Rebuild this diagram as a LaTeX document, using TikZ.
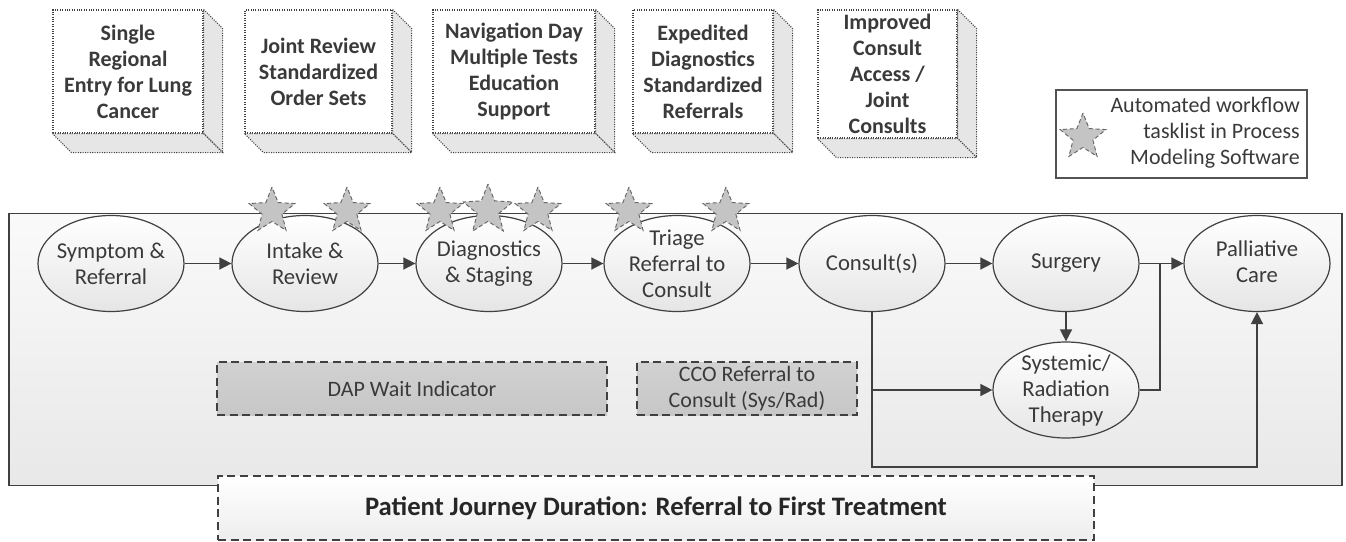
\documentclass[tikz,border=0pt]{standalone}
\usepackage{fontspec}
\setmainfont{Carlito}
\usetikzlibrary{shapes.geometric,arrows.meta,calc}
\definecolor{ln}{HTML}{404040}
\definecolor{tx}{HTML}{3A3A3A}
\definecolor{side}{HTML}{E6E6E6}
\definecolor{stfill}{HTML}{C4C4C4}
\tikzset{
  cube/.style={draw=ln, densely dotted, line width=0.8pt, fill=white, rectangle, inner sep=0pt,
     font=\bfseries\fontsize{16.5}{19.5}\selectfont, text=tx, align=center},
  cubeside/.style={draw=ln, densely dotted, line width=0.8pt, fill=side},
  proc/.style={ellipse, draw=ln, line width=0.9pt, minimum width=109.5pt, minimum height=72pt, inner sep=0pt,
     top color=white, bottom color=white!90!black},
  lbl/.style={font=\fontsize{17}{19.5}\selectfont, text=tx, align=center, inner sep=0pt},
  flow/.style={draw=ln, line width=1.1pt, -{Triangle[length=9pt,width=9pt]}},
  plain/.style={draw=ln, line width=1.1pt},
  wait/.style={draw=ln, dashed, dash pattern=on 6pt off 3.5pt, line width=0.9pt, top color=white!82!black, bottom color=white!78!black,
     font=\fontsize{16.5}{19.5}\selectfont, text=tx, align=center, inner sep=0pt},
  starmark/.style={star, star points=5, star point ratio=2.3, minimum size=36pt, inner sep=0pt,
     fill=stfill, draw=ln!80, densely dashed, line width=0.7pt}
}
\begin{document}
\begin{tikzpicture}[x=0.75pt,y=-0.75pt]
\useasboundingbox (0,0) rectangle (1346,542);
% container
\node[draw=ln, line width=0.9pt, top color=white!98!black, bottom color=white!91!black, minimum width=999.75pt, minimum height=204pt, inner sep=0pt] (cont) at (675.5,349.5) {};
% top boxes
\node[cube, minimum width=112.5pt, minimum height=92.25pt] (b1) at (128,71.5) {Single\\Regional\\Entry for Lung\\Cancer};
\node[cube, minimum width=110.25pt, minimum height=92.25pt] (b2) at (318.5,71.5) {Joint Review\\Standardized\\Order Sets};
\node[cube, minimum width=121.5pt, minimum height=92.25pt] (b3) at (514,71.5) {Navigation Day\\Multiple Tests\\Education\\Support};
\node[cube, minimum width=105pt, minimum height=92.25pt] (b4) at (703,71.5) {Expedited\\Diagnostics\\Standardized\\Referrals};
\node[cube, minimum width=104.25pt, minimum height=96pt] (b5) at (887.5,74) {Improved\\Consult\\Access /\\Joint\\Consults};
\foreach \b in {b1,b2,b3,b4,b5}{
  \path[cubeside] (\b.north east) -- ++(19,19) -- ($(\b.south east)+(19,19)$) -- (\b.south east) -- cycle;
  \path[cubeside] (\b.south west) -- (\b.south east) -- ++(19,19) -- ($(\b.south west)+(19,19)$) -- cycle;
}
% legend
\node[draw=ln!90, line width=0.8pt, fill=white, minimum width=188.25pt, minimum height=66pt, inner sep=0pt] (leg) at (1181.5,134) {};
\node[starmark] (legstar) at (1083,137) {};
\node[lbl, align=right, anchor=east, font=\fontsize{16.5}{19.5}\selectfont] (legtxt) at (1300,133) {Automated workflow\\tasklist in Process\\Modeling Software};
% process ellipses
\node[proc] (n1) at (111,263.5) {};
\node[proc] (n2) at (305,263.5) {};
\node[proc] (n3) at (489,263.5) {};
\node[proc] (n4) at (677,263.5) {};
\node[proc] (n5) at (872,263.5) {};
\node[proc] (n6) at (1066,263.5) {};
\node[proc] (n7) at (1257,263.5) {};
\node[proc] (n8) at (1066,390) {};
\node[lbl] (t1) at (n1) {Symptom \&\\Referral};
\node[lbl] (t2) at (n2) {Intake \&\\Review};
\node[lbl] (t3) at (n3) {Diagnostics\\\& Staging};
\node[lbl] (t4) at ($(n4)+(0,0)$) {Triage\\Referral to\\Consult};
\node[lbl] (t5) at (n5) {Consult(s)};
\node[lbl] (t6) at (n6) {Surgery};
\node[lbl] (t7) at ($(n7)+(0,-2)$) {Palliative\\Care};
\node[lbl] (t8) at (n8) {Systemic/\\Radiation\\Therapy};
% stars
\node[starmark] (s1) at (272,211) {};
\node[starmark] (s2) at (347,211) {};
\node[starmark] (s3) at (440,211) {};
\node[starmark] (s5) at (538,211) {};
\node[starmark, minimum size=39pt] (s4) at (488,210) {};
\node[starmark] (s6) at (629,211) {};
\node[starmark] (s7) at (726,211) {};
% connectors
\draw[flow] (n1) -- (n2);
\draw[flow] (n2) -- (n3);
\draw[flow] (n3) -- (n4);
\draw[flow] (n4) -- (n5);
\draw[flow] (n5) -- (n6);
\draw[flow] (n6) -- (n7);
\draw[flow] (n6) -- (n8);
\coordinate (jx) at (1160,263.5);
\draw[plain] (n8.east) -| (jx);
\coordinate (lp) at (872,467);
\draw[flow] (n5.south) -- (lp) -| (n7.south);
\draw[flow] (n5.south |- n8.west) -- (n8.west);
% wait indicators
\node[wait, minimum width=292.5pt, minimum height=39.75pt] (dap) at (412,388.5) {DAP Wait Indicator};
\node[wait, minimum width=165pt, minimum height=39.75pt] (cco) at (747,388.5) {CCO Referral to\\Consult (Sys/Rad)};
% patient journey
\node[draw=ln, dashed, dash pattern=on 6pt off 3.5pt, line width=0.9pt, top color=white, bottom color=white!93!black, minimum width=657pt, minimum height=48pt, inner sep=0pt,
   font=\bfseries\fontsize{20}{24}\selectfont, text=black!85] (pj) at (656,508) {Patient Journey Duration: Referral to First Treatment};
\end{tikzpicture}
\end{document}
